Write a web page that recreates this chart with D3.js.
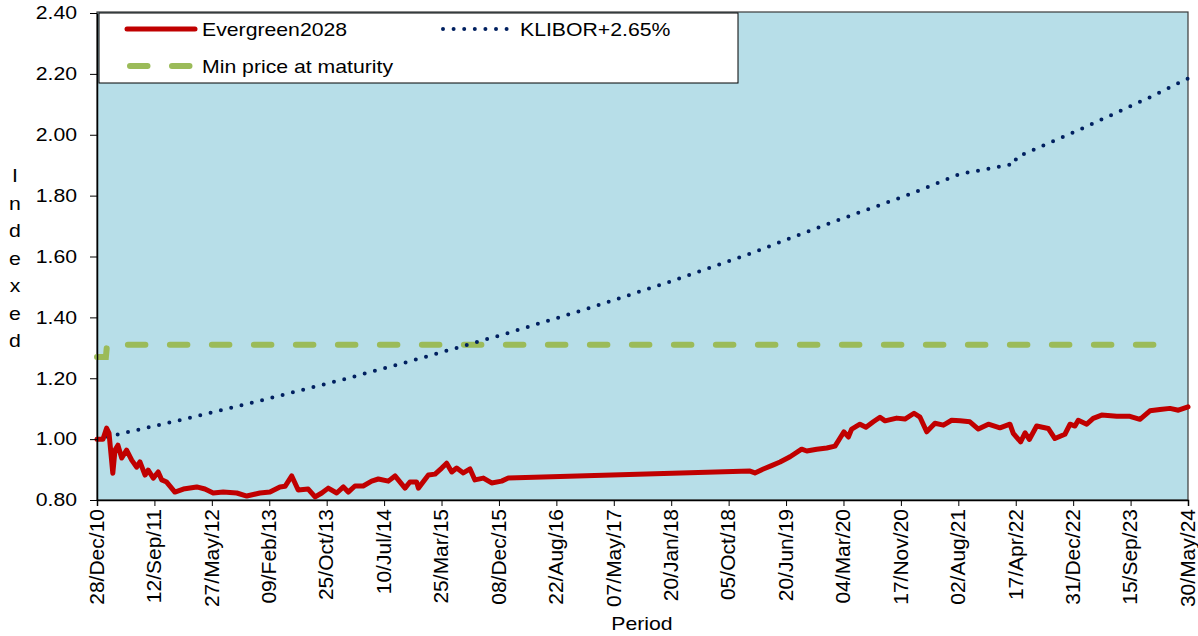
<!DOCTYPE html>
<html>
<head>
<meta charset="utf-8">
<script src="https://cdn.jsdelivr.net/npm/d3@7"></script>
<style>
  body { margin: 0; background: #fff; }
  svg { display: block; font-family: "Liberation Sans", Arial, sans-serif; }
</style>
</head>
<body>
<svg id="chart" width="1198" height="636"></svg>
<script>
// Evergreen2028
const evergreenDates = [
  "2010-12-28","2011-01-24","2011-02-09","2011-02-20","2011-03-09","2011-03-19","2011-04-01","2011-04-18",
  "2011-05-10","2011-06-02","2011-06-24","2011-07-09","2011-08-01","2011-08-15","2011-09-07","2011-09-29",
  "2011-10-15","2011-11-06","2011-12-13","2012-01-20","2012-03-20","2012-04-26","2012-06-02","2012-07-17",
  "2012-09-16","2012-10-31","2012-12-29","2013-02-12","2013-03-29","2013-04-21","2013-05-21","2013-06-19",
  "2013-08-03","2013-09-03","2013-10-03","2013-11-01","2013-12-09","2014-01-08","2014-01-30","2014-03-01",
  "2014-04-07","2014-05-15","2014-06-14","2014-07-29","2014-08-28","2014-10-12","2014-11-03","2014-12-03",
  "2014-12-11","2015-01-25","2015-02-24","2015-03-26","2015-04-17","2015-05-10","2015-06-01","2015-07-01",
  "2015-07-31","2015-08-22","2015-09-29","2015-11-05","2015-12-20","2016-01-19","2019-01-09","2019-01-31",
  "2019-03-10","2019-04-16","2019-05-24","2019-07-08","2019-08-29","2019-09-21","2019-11-05","2019-12-20",
  "2020-01-26","2020-02-17","2020-03-06","2020-03-26","2020-04-10","2020-05-17","2020-06-13","2020-07-16",
  "2020-08-15","2020-09-07","2020-10-29","2020-12-05","2021-01-15","2021-02-11","2021-03-13","2021-04-19",
  "2021-05-27","2021-07-03","2021-08-10","2021-09-23","2021-10-31","2021-12-15","2022-02-05","2022-03-22",
  "2022-04-06","2022-05-09","2022-05-29","2022-06-17","2022-07-20","2022-09-10","2022-10-10","2022-11-24",
  "2022-12-17","2023-01-08","2023-01-23","2023-03-02","2023-03-31","2023-05-08","2023-07-15","2023-09-12",
  "2023-10-27","2023-12-11","2024-01-25","2024-03-10","2024-04-17","2024-05-30"
];
const evergreenValues = [
  1.000,1.000,1.036,1.020,0.888,0.964,0.980,0.938,
  0.964,0.931,0.908,0.925,0.882,0.898,0.872,0.892,
  0.866,0.859,0.826,0.836,0.843,0.836,0.823,0.826,
  0.823,0.813,0.823,0.826,0.843,0.845,0.879,0.833,
  0.836,0.810,0.823,0.839,0.823,0.843,0.826,0.846,
  0.846,0.862,0.869,0.862,0.879,0.839,0.859,0.859,
  0.839,0.882,0.885,0.905,0.921,0.892,0.905,0.889,
  0.902,0.866,0.872,0.856,0.862,0.872,0.895,0.889,
  0.902,0.913,0.925,0.942,0.967,0.961,0.967,0.971,
  0.977,1.003,1.024,1.007,1.033,1.049,1.039,1.057,
  1.072,1.060,1.069,1.066,1.085,1.072,1.024,1.052,
  1.046,1.062,1.060,1.057,1.033,1.049,1.037,1.049,
  1.019,0.991,1.021,0.999,1.043,1.035,1.002,1.016,
  1.049,1.043,1.062,1.049,1.068,1.079,1.075,1.075,
  1.065,1.093,1.097,1.101,1.095,1.106
];

// KLIBOR+2.65%
const kliborDates = [
  "2010-12-28","2011-12-28","2012-12-28","2013-12-28","2014-12-28","2015-12-28","2016-12-28",
  "2017-12-28","2018-12-28","2019-12-28","2020-12-28","2021-08-09","2022-04-16","2022-04-18",
  "2023-02-05","2023-12-16","2024-05-30"
];
const kliborValues = [
  1.000,1.061,1.126,1.194,1.267,1.344,1.426,
  1.513,1.606,1.708,1.805,1.871,1.905,1.925,
  2.019,2.125,2.185
];

// Min price at maturity
const minPriceDates = ["2010-12-28","2011-02-06","2011-02-11","2024-01-31"];
const minPriceValues = [1.27, 1.27, 1.31, 1.31];

const xTickLabels = [
  "28/Dec/10","12/Sep/11","27/May/12","09/Feb/13","25/Oct/13","10/Jul/14","25/Mar/15",
  "08/Dec/15","22/Aug/16","07/May/17","20/Jan/18","05/Oct/18","20/Jun/19","04/Mar/20",
  "17/Nov/20","02/Aug/21","17/Apr/22","31/Dec/22","15/Sep/23","30/May/24"
];
const yTicks = [0.80, 1.00, 1.20, 1.40, 1.60, 1.80, 2.00, 2.20, 2.40];

const parseIso = d3.timeParse("%Y-%m-%d");
const parseTick = d3.timeParse("%d/%b/%y");

const svg = d3.select("#chart");
const plot = {left: 97, right: 1188, top: 13, bottom: 500};
const stretch = "scale(1.18,1)";   // the source text is a bit wide

const x = d3.scaleTime()
    .domain([parseTick(xTickLabels[0]), parseTick(xTickLabels[xTickLabels.length - 1])])
    .range([plot.left, plot.right]);
const y = d3.scaleLinear().domain([0.8, 2.4]).range([plot.bottom, plot.top]);

// plot area
svg.append("rect")
    .attr("x", plot.left).attr("y", plot.top - 1)
    .attr("width", plot.right - plot.left).attr("height", plot.bottom - plot.top + 1)
    .attr("fill", "#B7DEE8")
    .attr("stroke", "#3a3a3a")
    .attr("stroke-width", 1.2);

function series(dates, values) {
    return dates.map((d, i) => ({date: parseIso(d), value: values[i]}));
}
const line = d3.line().x(d => x(d.date)).y(d => y(d.value));

svg.append("path")
    .datum(series(minPriceDates, minPriceValues))
    .attr("d", line)
    .attr("fill", "none")
    .attr("stroke", "#9BBB59")
    .attr("stroke-width", 6)
    .attr("stroke-linecap", "round")
    .attr("stroke-dasharray", "17.5 24.5");

svg.append("path")
    .datum(series(kliborDates, kliborValues))
    .attr("d", line)
    .attr("fill", "none")
    .attr("stroke", "#002060")
    .attr("stroke-width", 4)
    .attr("stroke-linecap", "round")
    .attr("stroke-dasharray", "0 10.6");

svg.append("path")
    .datum(series(evergreenDates, evergreenValues))
    .attr("d", line)
    .attr("fill", "none")
    .attr("stroke", "#C00000")
    .attr("stroke-width", 5)
    .attr("stroke-linejoin", "round")
    .attr("stroke-linecap", "round");

// axes
const xAxis = svg.append("g")
    .attr("transform", `translate(0,${plot.bottom})`)
    .call(d3.axisBottom(x)
        .tickValues(xTickLabels.map(parseTick))
        .tickFormat(d3.timeFormat("%d/%b/%y"))
        .tickSizeOuter(0)
        .tickSize(6));
xAxis.selectAll("text")
    .attr("font-size", 21)
    .attr("fill", "#000")
    .attr("transform", "rotate(-90)")
    .attr("text-anchor", "end")
    .attr("x", -9)
    .attr("y", 0)
    .attr("dy", "0.3em");
xAxis.select(".domain").attr("stroke", "#000").attr("stroke-width", 1.5);
xAxis.selectAll(".tick line").attr("stroke", "#000");

const yAxis = svg.append("g")
    .attr("transform", `translate(${plot.left},0)`)
    .call(d3.axisLeft(y).tickValues(yTicks).tickFormat(d3.format(".2f")).tickSize(7).tickSizeOuter(0));
yAxis.selectAll("text")
    .attr("font-size", 18)
    .attr("fill", "#000")
    .attr("x", 0)
    .attr("transform", "translate(-20,0) " + stretch);
yAxis.select(".domain").attr("stroke", "#000").attr("stroke-width", 1.5);
yAxis.selectAll(".tick line").attr("stroke", "#000");

// axis titles
svg.append("text")
    .attr("transform", "translate(642,630) " + stretch)
    .attr("text-anchor", "middle")
    .attr("font-size", 18)
    .text("Period");

const yTitle = "Indexed".split("");
svg.append("g").selectAll("text")
    .data(yTitle)
    .join("text")
    .attr("transform", (d, i) => `translate(15,${182 + i * 27.5}) ${stretch}`)
    .attr("text-anchor", "middle")
    .attr("font-size", 18)
    .text(d => d);

// legend
const legend = svg.append("g");
legend.append("rect")
    .attr("x", 99).attr("y", 13)
    .attr("width", 639).attr("height", 70)
    .attr("fill", "#fff")
    .attr("stroke", "#000")
    .attr("stroke-width", 1);

const legendItems = [
    {label: "Evergreen2028", x1: 127, x2: 195, tx: 202, y: 29, stroke: "#C00000", width: 5, dash: null},
    {label: "KLIBOR+2.65%", x1: 443, x2: 513, tx: 520, y: 29, stroke: "#002060", width: 4, dash: "0 10.6"},
    {label: "Min price at maturity", x1: 130, x2: 195, tx: 202, y: 66, stroke: "#9BBB59", width: 6, dash: "17.5 24.5"}
];
legendItems.forEach(it => {
    legend.append("line")
        .attr("x1", it.x1).attr("x2", it.x2)
        .attr("y1", it.y).attr("y2", it.y)
        .attr("stroke", it.stroke)
        .attr("stroke-width", it.width)
        .attr("stroke-linecap", "round")
        .attr("stroke-dasharray", it.dash);
    legend.append("text")
        .attr("transform", `translate(${it.tx},${it.y + 7}) ${stretch}`)
        .attr("font-size", 18)
        .text(it.label);
});
</script>
</body>
</html>
